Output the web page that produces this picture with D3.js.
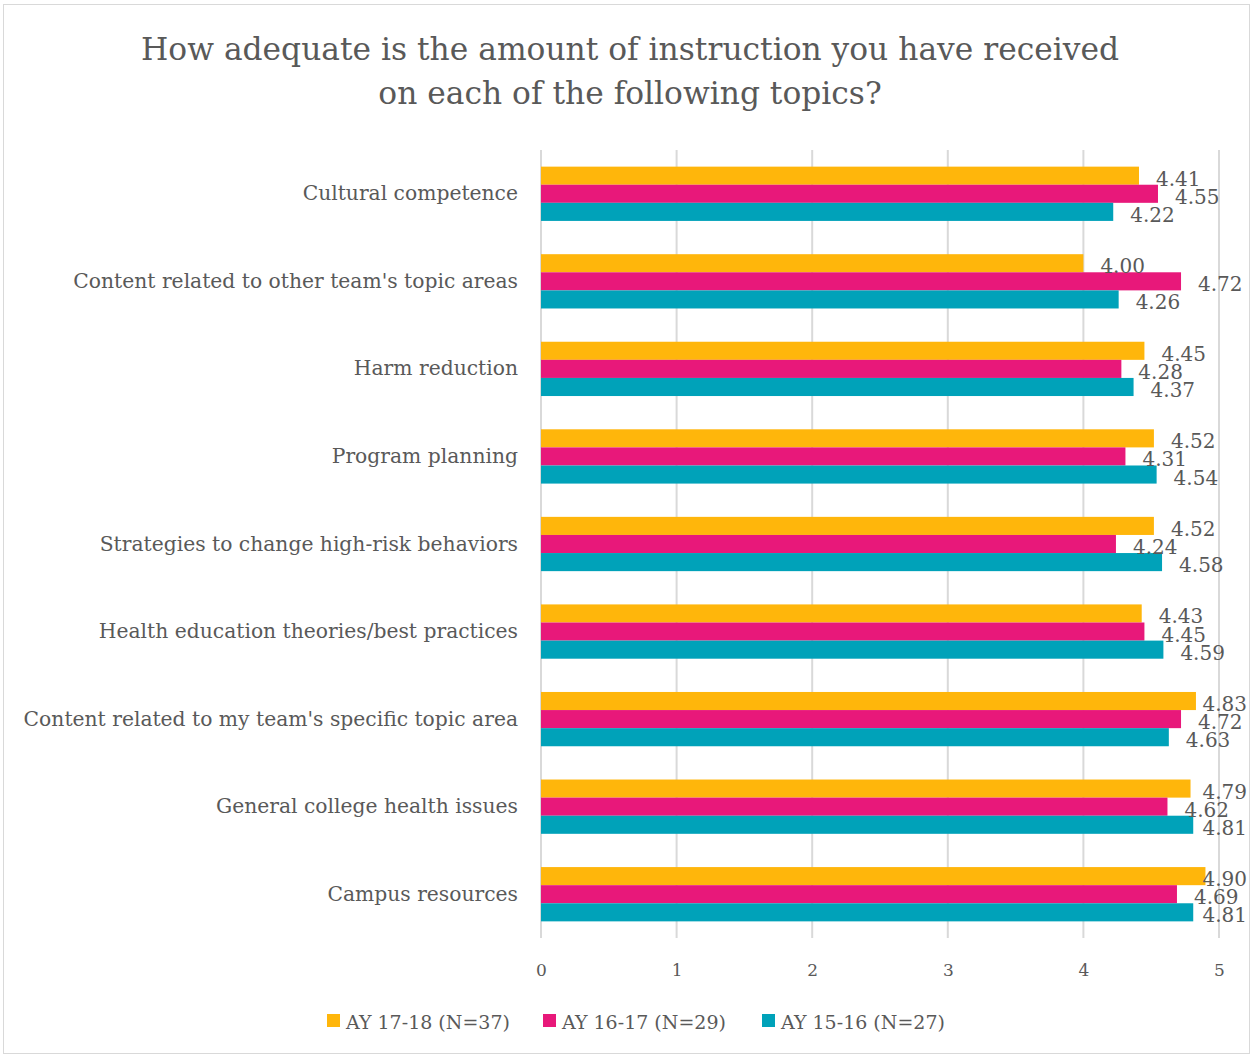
<!DOCTYPE html>
<html>
<head>
<meta charset="utf-8">
<script src="https://cdn.jsdelivr.net/npm/d3@7"></script>
<style>
  html, body { margin: 0; padding: 0; background: #fff; }
  svg text { font-family: "DejaVu Serif", "Liberation Serif", serif; fill: #595959; }
</style>
</head>
<body>
<svg id="chart" width="1253" height="1057"></svg>
<script>
// Survey topics, top to bottom
const categories = [
  "Cultural competence",
  "Content related to other team's topic areas",
  "Harm reduction",
  "Program planning",
  "Strategies to change high-risk behaviors",
  "Health education theories/best practices",
  "Content related to my team's specific topic area",
  "General college health issues",
  "Campus resources"
];

const seriesNames = ["AY 17-18 (N=37)", "AY 16-17 (N=29)", "AY 15-16 (N=27)"];

// Mean ratings per academic year
const ay1718 = [4.41, 4.00, 4.45, 4.52, 4.52, 4.43, 4.83, 4.79, 4.90];
const ay1617 = [4.55, 4.72, 4.28, 4.31, 4.24, 4.45, 4.72, 4.62, 4.69];
const ay1516 = [4.22, 4.26, 4.37, 4.54, 4.58, 4.59, 4.63, 4.81, 4.81];

const seriesColors = ["#FFB60B", "#E8187A", "#00A2B9"];
const xTicks = [0, 1, 2, 3, 4, 5];

const titleLines = [
  "How adequate is the amount of instruction you have received",
  "on each of the following topics?"
];

const seriesValues = [ay1718, ay1617, ay1516];

const svg = d3.select("#chart");

// outer frame
svg.append("rect")
  .attr("x", 3.5).attr("y", 4.5)
  .attr("width", 1246).attr("height", 1049)
  .attr("fill", "none").attr("stroke", "#d9d9d9").attr("stroke-width", 1);

const plot = { left: 541, right: 1219, top: 150, bottom: 938 };
const labelRightLimit = 1247;

const x = d3.scaleLinear().domain([0, 5]).range([plot.left, plot.right]);
const y = d3.scaleBand().domain(categories).range([plot.top, plot.bottom]).paddingInner(0.38).paddingOuter(0.19);
const ySub = d3.scaleBand().domain(d3.range(3)).range([0, y.bandwidth()]);

// title
svg.append("g").selectAll("text")
  .data(titleLines)
  .join("text")
  .attr("x", 630)
  .attr("y", (d, i) => 60 + i * 44)
  .attr("text-anchor", "middle")
  .attr("font-size", 31.3)
  .text(d => d);

// vertical gridlines
svg.append("g").selectAll("line")
  .data(xTicks)
  .join("line")
  .attr("x1", d => x(d)).attr("x2", d => x(d))
  .attr("y1", plot.top).attr("y2", plot.bottom)
  .attr("stroke", "#d9d9d9").attr("stroke-width", 2);

// x axis tick labels
const xAxis = d3.axisBottom(x).tickValues(xTicks).tickSize(0).tickPadding(0).tickFormat(d3.format("d"));
const xg = svg.append("g").attr("transform", `translate(0, ${plot.bottom + 38})`).call(xAxis);
xg.select(".domain").remove();
xg.selectAll("text").attr("font-size", 17).attr("fill", "#595959").attr("dy", 0)
  .style("font-family", '"DejaVu Serif", serif');

// category labels
const yAxis = d3.axisLeft(y).tickSize(0).tickPadding(0);
const yg = svg.append("g").attr("transform", `translate(${plot.left - 23}, 0)`).call(yAxis);
yg.select(".domain").remove();
yg.selectAll("text").attr("font-size", 20.3).attr("fill", "#595959")
  .style("font-family", '"DejaVu Serif", serif');

// bars and value labels
const rows = categories.map((c, ci) => seriesValues.map((vals, si) => ({ cat: c, s: si, v: vals[ci] })));
const groups = svg.append("g").selectAll("g")
  .data(rows)
  .join("g")
  .attr("transform", d => `translate(0, ${y(d[0].cat)})`);

groups.selectAll("rect")
  .data(d => d)
  .join("rect")
  .attr("x", x(0))
  .attr("y", d => ySub(d.s))
  .attr("width", d => x(d.v) - x(0))
  .attr("height", ySub.bandwidth())
  .attr("fill", d => seriesColors[d.s]);

groups.selectAll("text")
  .data(d => d)
  .join("text")
  .attr("y", d => ySub(d.s) + ySub.bandwidth() / 2 + 10)
  .attr("font-size", 20)
  .text(d => d.v.toFixed(2))
  .attr("x", function (d) {
    // labels sit just past the bar end, but stay inside the chart frame
    const w = this.getComputedTextLength();
    return Math.min(x(d.v) + 17, labelRightLimit - w);
  });

// legend
const legendX = [327, 543, 762];
const legend = svg.append("g").selectAll("g")
  .data(seriesNames)
  .join("g")
  .attr("transform", (d, i) => `translate(${legendX[i]}, 1021)`);
legend.append("rect")
  .attr("x", 0).attr("y", -7).attr("width", 13).attr("height", 13)
  .attr("fill", (d, i) => seriesColors[i]);
legend.append("text")
  .attr("x", 19).attr("y", 8)
  .attr("font-size", 19)
  .text(d => d);
</script>
</body>
</html>
